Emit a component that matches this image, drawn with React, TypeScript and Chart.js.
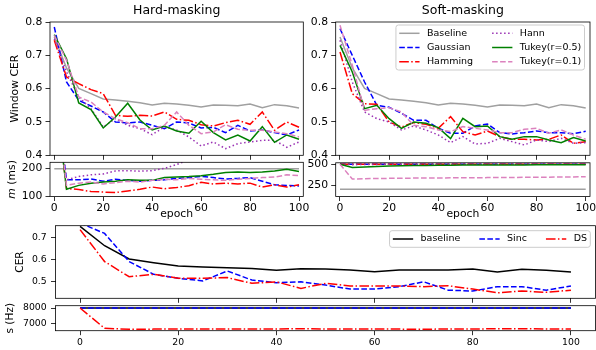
import React, { useEffect, useRef } from "react";
import { Chart, registerables } from "chart.js";

Chart.register(...registerables);

// ---------------- data ----------------
const EPOCHS = [0, 5, 10, 15, 20, 25, 30, 35, 40, 45, 50, 55, 60, 65, 70, 75, 80, 85, 90, 95, 100];
const EPOCH_TICKS = [0, 20, 40, 60, 80, 100];

const TOP_CER_TICKS = [0.4, 0.5, 0.6, 0.7, 0.8];
const HARD_M_TICKS = [100, 200];
const SOFT_M_TICKS = [250, 500];
const BOTTOM_CER_TICKS = [0.5, 0.6, 0.7];
const S_TICKS = [7000, 8000];

const WINDOW_NAMES = ["Baseline", "Gaussian", "Hamming", "Hann", "Tukey(r=0.5)", "Tukey(r=0.1)"];
const FILTER_NAMES = ["baseline", "Sinc", "DS"];

const BASELINE_CER = [0.755, 0.662, 0.601, 0.585, 0.569, 0.566, 0.562, 0.558, 0.551, 0.556, 0.554, 0.55, 0.545, 0.551, 0.55, 0.549, 0.554, 0.543, 0.552, 0.549, 0.542];

const HARD_GAUSSIAN_CER = [0.785, 0.62, 0.565, 0.548, 0.53, 0.5, 0.497, 0.5, 0.49, 0.48, 0.5, 0.497, 0.482, 0.484, 0.468, 0.49, 0.473, 0.476, 0.468, 0.461, 0.476];
const HARD_HAMMING_CER = [0.745, 0.635, 0.615, 0.597, 0.585, 0.52, 0.517, 0.52, 0.518, 0.53, 0.508, 0.505, 0.492, 0.488, 0.498, 0.505, 0.493, 0.53, 0.475, 0.5, 0.484];
const HARD_HANN_CER = [0.75, 0.65, 0.575, 0.54, 0.485, 0.51, 0.49, 0.48, 0.462, 0.485, 0.476, 0.455, 0.428, 0.44, 0.42, 0.435, 0.44, 0.445, 0.445, 0.424, 0.44];
const HARD_TUKEY05_CER = [0.762, 0.69, 0.557, 0.537, 0.482, 0.515, 0.556, 0.506, 0.476, 0.488, 0.473, 0.466, 0.502, 0.468, 0.446, 0.461, 0.443, 0.486, 0.439, 0.461, 0.448];
const HARD_TUKEY01_CER = [0.76, 0.685, 0.575, 0.56, 0.53, 0.51, 0.498, 0.48, 0.48, 0.49, 0.53, 0.49, 0.465, 0.47, 0.492, 0.478, 0.475, 0.475, 0.47, 0.465, 0.455];

const SOFT_GAUSSIAN_CER = [0.78, 0.7, 0.62, 0.55, 0.544, 0.526, 0.505, 0.505, 0.481, 0.466, 0.466, 0.488, 0.494, 0.468, 0.464, 0.468, 0.473, 0.468, 0.468, 0.465, 0.472];
const SOFT_HAMMING_CER = [0.71, 0.585, 0.555, 0.553, 0.5, 0.485, 0.498, 0.493, 0.481, 0.516, 0.471, 0.461, 0.473, 0.456, 0.448, 0.448, 0.446, 0.448, 0.461, 0.436, 0.441];
const SOFT_HANN_CER = [0.745, 0.62, 0.53, 0.51, 0.5, 0.476, 0.488, 0.476, 0.461, 0.438, 0.456, 0.434, 0.436, 0.451, 0.441, 0.431, 0.446, 0.441, 0.451, 0.436, 0.438];
const SOFT_TUKEY05_CER = [0.73, 0.65, 0.54, 0.55, 0.51, 0.481, 0.5, 0.496, 0.483, 0.45, 0.511, 0.486, 0.488, 0.456, 0.448, 0.456, 0.456, 0.446, 0.438, 0.453, 0.443];
const SOFT_TUKEY01_CER = [0.79, 0.67, 0.535, 0.54, 0.543, 0.53, 0.49, 0.486, 0.476, 0.471, 0.486, 0.481, 0.476, 0.468, 0.468, 0.478, 0.481, 0.466, 0.476, 0.461, 0.448];

const BASELINE_M = [200, 200, 200, 200, 200, 200, 200, 200, 200, 200, 200, 200, 200, 200, 200, 200, 200, 200, 200, 200, 200];
const HARD_GAUSSIAN_M = [500, 160, 160, 163, 155, 162, 158, 155, 158, 160, 165, 168, 172, 168, 163, 165, 168, 155, 142, 140, 138];
const HARD_HAMMING_M = [500, 129, 125, 118, 116, 114, 120, 126, 134, 128, 132, 139, 151, 145, 148, 145, 148, 134, 142, 134, 142];
const HARD_HANN_M = [500, 160, 172, 178, 181, 192, 193, 191, 193, 201, 215, 232, 248, 262, 275, 290, 300, 310, 320, 330, 340];
const HARD_TUKEY05_M = [500, 126, 140, 148, 152, 155, 160, 158, 158, 168, 170, 172, 175, 180, 186, 188, 186, 188, 192, 198, 190];
const HARD_TUKEY01_M = [500, 140, 148, 152, 145, 150, 155, 152, 158, 162, 160, 165, 162, 160, 158, 162, 165, 168, 170, 178, 175];

const SOFT_GAUSSIAN_M = [500, 500, 500, 500, 500, 500, 500, 500, 500, 500, 500, 500, 500, 500, 500, 500, 500, 500, 500, 500, 500];
const SOFT_HAMMING_M = [500, 500, 500, 500, 500, 500, 500, 500, 500, 500, 500, 500, 500, 500, 500, 500, 500, 500, 500, 500, 500];
const SOFT_HANN_M = [500, 494, 497, 498, 499, 499, 500, 500, 500, 500, 500, 500, 500, 500, 500, 500, 500, 500, 500, 500, 500];
const SOFT_TUKEY05_M = [500, 460, 468, 474, 478, 481, 484, 486, 488, 489, 490, 490, 491, 491, 492, 492, 493, 493, 494, 494, 495];
const SOFT_TUKEY01_M = [500, 322, 326, 328, 330, 331, 333, 334, 335, 336, 337, 338, 339, 340, 341, 342, 343, 344, 346, 347, 350];

const FILTER_BASELINE_CER = [0.75, 0.662, 0.602, 0.585, 0.57, 0.565, 0.562, 0.559, 0.55, 0.557, 0.556, 0.552, 0.544, 0.552, 0.552, 0.552, 0.556, 0.543, 0.555, 0.55, 0.543];
const SINC_CER = [0.765, 0.718, 0.59, 0.532, 0.514, 0.502, 0.547, 0.506, 0.494, 0.498, 0.483, 0.465, 0.465, 0.476, 0.498, 0.46, 0.456, 0.476, 0.476, 0.46, 0.479];
const DS_CER = [0.735, 0.59, 0.521, 0.532, 0.514, 0.514, 0.517, 0.491, 0.498, 0.468, 0.491, 0.479, 0.479, 0.479, 0.476, 0.48, 0.465, 0.448, 0.456, 0.45, 0.46];

const BASELINE_S = [8000, 8000, 8000, 8000, 8000, 8000, 8000, 8000, 8000, 8000, 8000, 8000, 8000, 8000, 8000, 8000, 8000, 8000, 8000, 8000, 8000];
const SINC_S = [8000, 8000, 8000, 8000, 8000, 8000, 8000, 8000, 8000, 8000, 8000, 8000, 8000, 8000, 8000, 8000, 8000, 8000, 8000, 8000, 8000];
const DS_S = [8000, 6730, 6670, 6680, 6690, 6680, 6690, 6680, 6690, 6700, 6690, 6680, 6690, 6680, 6670, 6690, 6690, 6700, 6710, 6690, 6680];

// ---------------- styles ----------------
const FONT_FAMILY = '"DejaVu Sans", "Liberation Sans", sans-serif';
const DASHED = [5.6, 2.4];
const DASHDOT = [9.6, 2.4, 1.5, 2.4];
const DOTTED = [1.5, 2.5];
const WINDOW_STYLE = [
  { color: "#a0a0a0", dash: [] as number[] },
  { color: "#0000ff", dash: DASHED },
  { color: "#ff0000", dash: DASHDOT },
  { color: "#9a32b4", dash: DOTTED },
  { color: "#008000", dash: [] as number[] },
  { color: "#dc82be", dash: DASHED },
];
const FILTER_STYLE = [
  { color: "#000000", dash: [] as number[] },
  { color: "#0000ff", dash: DASHED },
  { color: "#ff0000", dash: DASHDOT },
];

type Series = { label: string; data: number[]; color: string; dash: number[] };

function windowSeries(arrs: number[][]): Series[] {
  return arrs.map((d, i) => ({ label: WINDOW_NAMES[i], data: d, color: WINDOW_STYLE[i].color, dash: WINDOW_STYLE[i].dash }));
}
function filterSeries(arrs: number[][]): Series[] {
  return arrs.map((d, i) => ({ label: FILTER_NAMES[i], data: d, color: FILTER_STYLE[i].color, dash: FILTER_STYLE[i].dash }));
}

type Legend = { ncol: number; right: number; top: number; rowH: number; extra: number };
type Panel = {
  key: string;
  box: { left: number; top: number; w: number; h: number };
  area: { l: number; t: number; r: number; b: number };
  font: number;
  labelFont: number;
  xPad: number;
  yPad: number;
  xMin: number; xMax: number; xLabels: boolean; xTitle?: string; xTitleY?: number;
  yMin: number; yMax: number; yTicks: number[]; yDec: number;
  yTitleX?: number; yTitleParts?: { text: string; italic: boolean }[];
  title?: string;
  series: Series[];
  legend?: Legend;
};

const TOP_FONT = 10.8;
const BOTTOM_FONT = 9.3;
const BOTTOM_LABEL_FONT = 10.6;

const PANELS: Panel[] = [
  {
    key: "hardCER",
    box: { left: 0, top: 0, w: 318, h: 166 },
    area: { l: 50, t: 22, r: 303.3, b: 155.3 },
    font: TOP_FONT, labelFont: TOP_FONT, xPad: 1.2, yPad: 3.2,
    xMin: -1.75, xMax: 101.75, xLabels: false,
    yMin: 0.4, yMax: 0.8, yTicks: TOP_CER_TICKS, yDec: 1,
    yTitleParts: [{ text: "Window CER", italic: false }], yTitleX: 14.7,
    title: "Hard-masking",
    series: windowSeries([BASELINE_CER, HARD_GAUSSIAN_CER, HARD_HAMMING_CER, HARD_HANN_CER, HARD_TUKEY05_CER, HARD_TUKEY01_CER]),
  },
  {
    key: "softCER",
    box: { left: 290, top: 0, w: 306, h: 166 },
    area: { l: 335.7, t: 22, r: 590, b: 155.3 },
    font: TOP_FONT, labelFont: TOP_FONT, xPad: 1.2, yPad: 3.2,
    xMin: -1.75, xMax: 101.75, xLabels: false,
    yMin: 0.4, yMax: 0.8, yTicks: TOP_CER_TICKS, yDec: 1,
    title: "Soft-masking",
    series: windowSeries([BASELINE_CER, SOFT_GAUSSIAN_CER, SOFT_HAMMING_CER, SOFT_HANN_CER, SOFT_TUKEY05_CER, SOFT_TUKEY01_CER]),
    legend: { ncol: 2, right: 5.5, top: 3, rowH: 14.2, extra: 2.4 },
  },
  {
    key: "hardM",
    box: { left: 0, top: 150, w: 318, h: 75 },
    area: { l: 50, t: 162.3, r: 303.3, b: 196.5 },
    font: TOP_FONT, labelFont: TOP_FONT, xPad: 1.2, yPad: 3.2,
    xMin: -1.75, xMax: 101.75, xLabels: true, xTitle: "epoch", xTitleY: 214,
    yMin: 100, yMax: 223, yTicks: HARD_M_TICKS, yDec: 0,
    yTitleParts: [{ text: "m", italic: true }, { text: " (ms)", italic: false }], yTitleX: 11.7,
    series: windowSeries([BASELINE_M, HARD_GAUSSIAN_M, HARD_HAMMING_M, HARD_HANN_M, HARD_TUKEY05_M, HARD_TUKEY01_M]),
  },
  {
    key: "softM",
    box: { left: 290, top: 150, w: 306, h: 75 },
    area: { l: 335.7, t: 162.8, r: 590, b: 196.5 },
    font: TOP_FONT, labelFont: TOP_FONT, xPad: 1.2, yPad: 3.2,
    xMin: -1.75, xMax: 101.75, xLabels: true, xTitle: "epoch", xTitleY: 214.3,
    yMin: 112, yMax: 517, yTicks: SOFT_M_TICKS, yDec: 0,
    series: windowSeries([BASELINE_M, SOFT_GAUSSIAN_M, SOFT_HAMMING_M, SOFT_HANN_M, SOFT_TUKEY05_M, SOFT_TUKEY01_M]),
  },
  {
    key: "filterCER",
    box: { left: 0, top: 212, w: 596, h: 98 },
    area: { l: 55.5, t: 225.7, r: 595.5, b: 298.3 },
    font: BOTTOM_FONT, labelFont: BOTTOM_LABEL_FONT, xPad: 2.2, yPad: 4.3,
    xMin: -5, xMax: 105, xLabels: false,
    yMin: 0.423, yMax: 0.753, yTicks: BOTTOM_CER_TICKS, yDec: 1,
    yTitleParts: [{ text: "CER", italic: false }], yTitleX: 20,
    series: filterSeries([FILTER_BASELINE_CER, SINC_CER, DS_CER]),
    legend: { ncol: 3, right: 5.2, top: 5, rowH: 14.2, extra: 2.4 },
  },
  {
    key: "filterS",
    box: { left: 0, top: 293, w: 596, h: 57 },
    area: { l: 55.5, t: 305.7, r: 595.5, b: 330.7 },
    font: BOTTOM_FONT, labelFont: BOTTOM_LABEL_FONT, xPad: 2.2, yPad: 4.3,
    xMin: -5, xMax: 105, xLabels: true,
    yMin: 6581, yMax: 8144, yTicks: S_TICKS, yDec: 0,
    yTitleParts: [{ text: "s (Hz)", italic: false }], yTitleX: 10.5,
    series: filterSeries([BASELINE_S, SINC_S, DS_S]),
  },
];

// ---------------- plugins ----------------
const framePlugin = {
  id: "frame",
  afterDatasetsDraw(chart: any) {
    const { ctx, chartArea: a } = chart;
    ctx.save();
    ctx.strokeStyle = "#000";
    ctx.lineWidth = 0.8;
    ctx.strokeRect(a.left, a.top, a.right - a.left, a.bottom - a.top);
    ctx.restore();
  },
};

function makeLegendPlugin(cfg: Legend) {
  return {
    id: "boxLegend",
    afterDatasetsDraw(chart: any) {
      const ctx = chart.ctx;
      const a = chart.chartArea;
      const ds = chart.data.datasets;
      const nrow = Math.ceil(ds.length / cfg.ncol);
      const handle = 20.3, hpad = 7.4, colSpace = 19, bpad = 3.3;
      ctx.save();
      ctx.font = `9.5px ${FONT_FAMILY}`;
      const cols: { items: any[]; tw: number }[] = [];
      for (let c = 0; c < cfg.ncol; c++) {
        const items = ds.slice(c * nrow, (c + 1) * nrow);
        const tw = Math.max(...items.map((d: any) => ctx.measureText(d.label).width));
        cols.push({ items, tw });
      }
      const width = bpad * 2 + cols.reduce((s, c) => s + handle + hpad + c.tw, 0) + colSpace * (cfg.ncol - 1);
      const height = cfg.extra + nrow * cfg.rowH;
      const x0 = a.right - cfg.right - width;
      const y0 = a.top + cfg.top;
      ctx.beginPath();
      if (ctx.roundRect) ctx.roundRect(x0, y0, width, height, 2.5);
      else ctx.rect(x0, y0, width, height);
      ctx.fillStyle = "rgba(255,255,255,0.8)";
      ctx.fill();
      ctx.strokeStyle = "#cccccc";
      ctx.lineWidth = 1;
      ctx.stroke();
      let cx = x0 + bpad;
      cols.forEach((col) => {
        col.items.forEach((d: any, r: number) => {
          const cy = y0 + cfg.extra / 2 + cfg.rowH * (r + 0.5);
          ctx.beginPath();
          ctx.setLineDash(d.borderDash || []);
          ctx.strokeStyle = d.borderColor;
          ctx.lineWidth = d.borderWidth;
          ctx.moveTo(cx, cy);
          ctx.lineTo(cx + handle, cy);
          ctx.stroke();
          ctx.setLineDash([]);
          ctx.fillStyle = "#000";
          ctx.textAlign = "left";
          ctx.textBaseline = "middle";
          ctx.fillText(d.label, cx + handle + hpad, cy);
        });
        cx += handle + hpad + col.tw + colSpace;
      });
      ctx.restore();
    },
  };
}

function makeYTitle(parts: { text: string; italic: boolean }[], x: number, size: number) {
  return {
    id: "yTitle",
    afterDraw(chart: any) {
      const ctx = chart.ctx;
      const a = chart.chartArea;
      ctx.save();
      ctx.translate(x, (a.top + a.bottom) / 2);
      ctx.rotate(-Math.PI / 2);
      const fonts = parts.map((p) => `${p.italic ? "italic " : ""}${size}px ${FONT_FAMILY}`);
      const widths = parts.map((p, i) => {
        ctx.font = fonts[i];
        return ctx.measureText(p.text).width;
      });
      let px = -widths.reduce((s, w) => s + w, 0) / 2;
      ctx.fillStyle = "#000";
      ctx.textAlign = "left";
      ctx.textBaseline = "middle";
      parts.forEach((p, i) => {
        ctx.font = fonts[i];
        ctx.fillText(p.text, px, 0);
        px += widths[i];
      });
      ctx.restore();
    },
  };
}

function zeroPad(s: any) {
  s.paddingLeft = 0;
  s.paddingRight = 0;
  s.paddingTop = 0;
  s.paddingBottom = 0;
}

const TITLE_SIZE = 12.5;
const TITLE_CENTER_Y = 11;
const TICK_LEN = 4.5;

function buildConfig(p: Panel): any {
  const { box, area } = p;
  const font = { family: FONT_FAMILY, size: p.font, lineHeight: 1.2 };
  const labelFont = { family: FONT_FAMILY, size: p.labelFont, lineHeight: 1.2 };
  const labelLineH = p.labelFont * 1.2;
  const titleH = p.title ? area.t - box.top : 0;
  const padTop = p.title ? 0 : area.t - box.top;
  const padRight = box.left + box.w - area.r;
  const yW = area.l - box.left;
  const xH = box.top + box.h - area.b;
  const tTop = TITLE_CENTER_Y - box.top - (TITLE_SIZE * 1.2) / 2;
  const tBottom = titleH - TITLE_SIZE * 1.2 - tTop;

  const plugins: any[] = [framePlugin];
  if (p.legend) plugins.push(makeLegendPlugin(p.legend));
  if (p.yTitleParts) plugins.push(makeYTitle(p.yTitleParts, (p.yTitleX as number) - box.left, p.labelFont));

  const n = p.series.length;
  const grid = {
    display: true,
    drawOnChartArea: false,
    drawTicks: true,
    tickLength: TICK_LEN,
    tickWidth: 0.8,
    tickColor: "#000",
  };

  return {
    type: "line",
    data: {
      datasets: p.series.map((s, i) => ({
        label: s.label,
        data: EPOCHS.map((x, j) => ({ x, y: s.data[j] })),
        borderColor: s.color,
        backgroundColor: s.color,
        borderDash: s.dash,
        borderWidth: 1.5,
        pointRadius: 0,
        pointHoverRadius: 0,
        tension: 0,
        fill: false,
        order: n - i,
      })),
    },
    options: {
      animation: false,
      responsive: false,
      events: [],
      layout: { padding: { left: 0, top: padTop, right: padRight, bottom: 0 } },
      plugins: {
        legend: { display: false },
        tooltip: { enabled: false },
        title: p.title
          ? {
              display: true,
              text: p.title,
              fullSize: false,
              color: "#000",
              font: { family: FONT_FAMILY, size: TITLE_SIZE, weight: "normal", lineHeight: 1.2 },
              padding: { top: tTop, bottom: tBottom },
            }
          : { display: false },
      },
      scales: {
        x: {
          type: "linear",
          min: p.xMin,
          max: p.xMax,
          afterBuildTicks: (s: any) => {
            s.ticks = EPOCH_TICKS.map((v) => ({ value: v }));
          },
          afterFit: (s: any) => {
            s.height = xH;
            zeroPad(s);
          },
          grid,
          border: { display: false },
          ticks: {
            display: p.xLabels,
            padding: p.xPad,
            color: "#000",
            font,
            maxRotation: 0,
            autoSkip: false,
            callback: (v: any) => String(Math.round(Number(v))),
          },
          title: p.xTitle
            ? {
                display: true,
                text: p.xTitle,
                color: "#000",
                font: labelFont,
                padding: { top: 0, bottom: box.top + box.h - (p.xTitleY as number) - labelLineH / 2 },
              }
            : { display: false },
        },
        y: {
          type: "linear",
          min: p.yMin,
          max: p.yMax,
          afterBuildTicks: (s: any) => {
            s.ticks = p.yTicks.map((v) => ({ value: v }));
          },
          afterFit: (s: any) => {
            s.width = yW;
            zeroPad(s);
          },
          grid,
          border: { display: false },
          ticks: {
            padding: p.yPad,
            color: "#000",
            font,
            autoSkip: false,
            callback: (v: any) => Number(v).toFixed(p.yDec),
          },
          title: { display: false },
        },
      },
    },
    plugins,
  };
}

function PanelCanvas({ panel }: { panel: Panel }) {
  const ref = useRef<HTMLCanvasElement | null>(null);
  useEffect(() => {
    if (!ref.current) return;
    const chart = new Chart(ref.current, buildConfig(panel));
    return () => chart.destroy();
  }, [panel]);
  return (
    <canvas
      ref={ref}
      width={panel.box.w}
      height={panel.box.h}
      style={{
        position: "absolute",
        left: panel.box.left,
        top: panel.box.top,
        width: panel.box.w,
        height: panel.box.h,
      }}
    />
  );
}

export default function App() {
  return (
    <div
      style={{
        position: "absolute",
        left: 0,
        top: 0,
        width: 596,
        height: 350,
        background: "#ffffff",
        overflow: "hidden",
      }}
    >
      {PANELS.map((p) => (
        <PanelCanvas key={p.key} panel={p} />
      ))}
    </div>
  );
}
